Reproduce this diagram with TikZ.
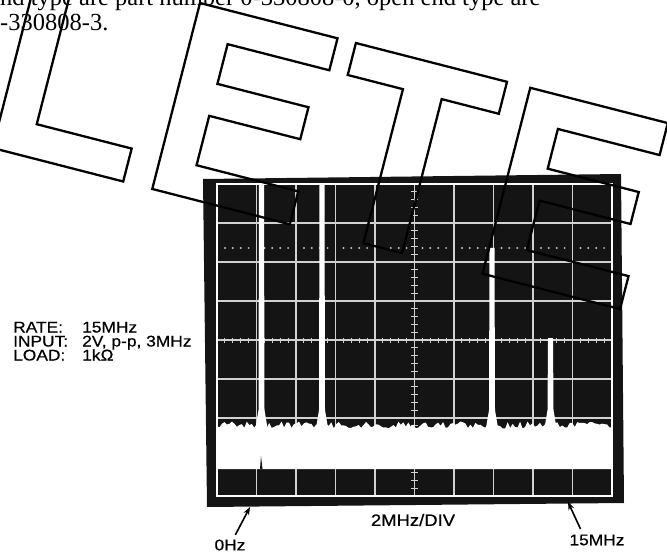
\documentclass[tikz,border=0pt]{standalone}
\usepackage{fontspec}
\setmainfont{Liberation Serif}
\newfontfamily\labelfont[FakeStretch=1.12,FakeBold=0.6]{Liberation Sans}
\usetikzlibrary{arrows.meta}
\begin{document}
\begin{tikzpicture}[x=1pt,y=-1pt]
\tikzstyle{outline}=[line width=2.3pt, line join=miter, draw=black]
\tikzstyle{grat}=[draw=black!18, line width=1.1pt]
\tikzstyle{lbl}=[font=\labelfont\fontsize{15.5}{17}\selectfont, inner sep=0, anchor=base west]
\tikzstyle{arr}=[-{Stealth[length=8pt,width=6pt]}, line width=1.6pt]
\useasboundingbox (0,0) rectangle (667,556);
\node[font=\fontsize{24.5}{28}\selectfont, inner sep=0, anchor=base west] (line1) at (0,6) {nd type are part number 0-330808-0, open end type are};
\node[font=\fontsize{24.5}{28}\selectfont, inner sep=0, anchor=base west] (line2) at (0,31) {-330808-3.};
\fill[black!92] (203,179) -- (621,174) -- (624,503) -- (207,507) -- cycle;
\foreach \k in {1,...,9}
\draw[grat] ({217+39.5*\k},184) -- ({217+39.5*\k},496);
\foreach \k in {1,...,7}
\draw[grat] (217,{184+39*\k}) -- (612,{184+39*\k});
\foreach \d in {0,...,9}
\foreach \j in {1,...,4}
\fill[black!25] ({217+39.5*\d+7.9*\j},248) circle (1.1);
\foreach \d in {0,...,9}
\foreach \j in {1,...,4}
\draw[grat] ({217+39.5*\d+7.9*\j},337.5) -- ++(0,5);
\foreach \d in {0,...,7}
\foreach \j in {1,...,4}
\draw[grat] (411,{184+39*\d+7.8*\j}) -- ++(7,0);
\pgfmathsetseed{3}
\fill[white] (217,469) -- plot[domain=217:612, samples=160] (\x,{425+3.5*rand}) -- (612,469) -- cycle;
\fill[black!92] (260,469) -- (261,456) -- (262.5,469) -- cycle;
\foreach \x/\t in {261.5/184, 322/184, 492/248, 550.5/338}
\fill[white] (\x-2.5,\t) -- (\x+2.5,\t) -- (\x+3,410) -- (\x+6,428) -- (\x-6,428) -- (\x-3,410) -- cycle;
\draw[white, line width=2.2pt] (217,184) rectangle (612,496);
\begin{scope}[shift={(200,3)}, rotate=-14.4]
\draw[outline] (-165,0) -- (-128,0) -- (-128,158) -- (-30,158) -- (-30,192) -- (-165,192) -- cycle;
\foreach \o in {0,341}
\draw[outline] (\o,0) -- ++(142,0) -- ++(0,33) -- ++(-105,0) -- ++(0,41) -- ++(94,0) -- ++(0,33) -- ++(-94,0) -- ++(0,51) -- ++(105,0) -- ++(0,34) -- ++(-142,0) -- cycle;
\draw[outline] (161,0) -- (317,0) -- (317,33) -- (258,33) -- (258,192) -- (218,192) -- (218,33) -- (161,33) -- cycle;
\end{scope}
\node[lbl] (rate) at (13,332.5) {RATE:};
\node[lbl] (ratev) at (82,332.5) {15MHz};
\node[lbl] (input) at (13,346.5) {INPUT:};
\node[lbl] (inputv) at (82,346.5) {2V, p-p, 3MHz};
\node[lbl] (load) at (13,360.5) {LOAD:};
\node[lbl] (loadv) at (82,360.5) {1kΩ};
\node[lbl, anchor=center, font=\labelfont\fontsize{16.5}{18}\selectfont] (div) at (413,520) {2MHz/DIV};
\node[lbl, anchor=center] (hz0) at (230,545) {0Hz};
\node[lbl, anchor=center] (mhz15) at (597,540) {15MHz};
\coordinate (z0) at (250,507);
\coordinate (z15) at (568,502);
\draw[arr, shorten <=5pt] ([xshift=3pt]hz0.north) -- (z0);
\draw[arr, shorten <=6pt] ([xshift=-14pt]mhz15.north) -- (z15);
\end{tikzpicture}
\end{document}
